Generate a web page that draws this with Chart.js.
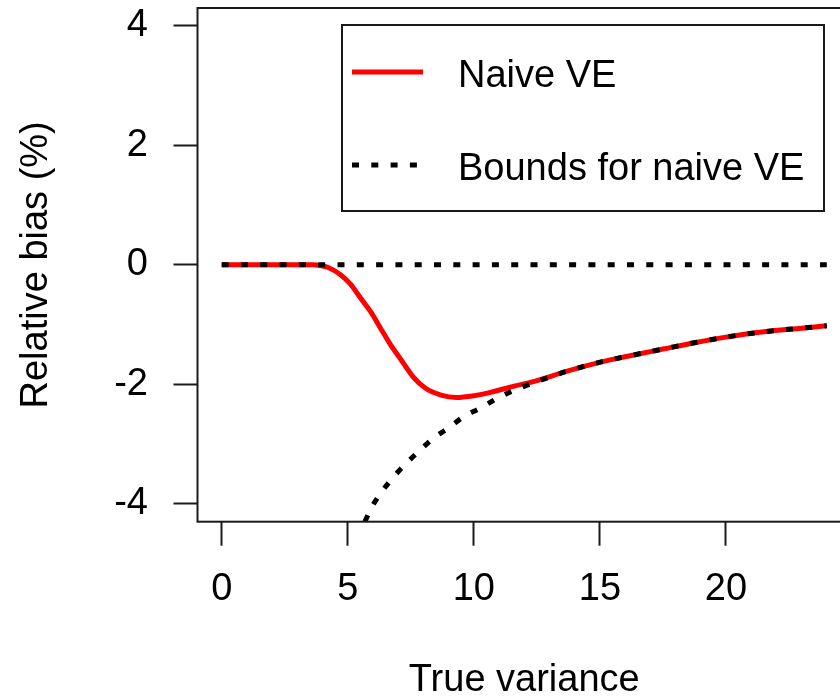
<!DOCTYPE html>
<html>
<head>
<meta charset="utf-8">
<script src="https://cdn.jsdelivr.net/npm/chart.js@4"></script>
<style>
  html, body { margin: 0; padding: 0; background: #fff; }
  #wrap { width: 840px; height: 700px; overflow: hidden; position: relative; }
  #bias-chart { position: absolute; left: 0; top: 0; }
</style>
</head>
<body>
<div id="wrap"><canvas id="bias-chart" width="870" height="700"></canvas></div>
<script>
// relative bias of the naive VE against the true variance
const naiveX = [0, 1, 2, 3, 3.6, 4.0, 4.2, 4.7, 5.1, 5.5, 5.9, 6.3, 6.7, 7.1, 7.6, 8.1, 8.7, 9.3, 10.0, 10.7, 11.6, 12.4, 13.7, 15.1, 16.1, 17.5, 18.8, 20, 21.5, 23, 24];
const naiveY = [0, 0, 0, 0, 0, -0.02, -0.04, -0.16, -0.32, -0.55, -0.78, -1.06, -1.34, -1.58, -1.88, -2.07, -2.18, -2.22, -2.19, -2.13, -2.03, -1.95, -1.78, -1.62, -1.53, -1.41, -1.30, -1.21, -1.12, -1.06, -1.02];

// lower and upper bounds for the naive VE
const lowerX = [5.4, 5.7, 6.0, 6.4, 6.9, 7.4, 7.9, 8.4, 9.0, 9.6, 10.3, 10.9, 11.6, 12.4, 13.7, 15.1, 16.1, 17.5, 18.8, 20, 21.5, 23, 24];
const lowerY = [-4.60, -4.28, -4.02, -3.77, -3.51, -3.29, -3.09, -2.90, -2.73, -2.54, -2.39, -2.24, -2.10, -1.97, -1.78, -1.62, -1.53, -1.41, -1.30, -1.21, -1.12, -1.06, -1.02];
const upperX = [0, 24];
const upperY = [0, 0];

const xTicks = [0, 5, 10, 15, 20];
const yTicks = [-4, -2, 0, 2, 4];

const FONT = '"Liberation Sans", Arial, sans-serif';
const INK = '#1a1a1a';

const toPoints = (xs, ys) => xs.map((x, i) => ({ x: x, y: ys[i] }));

// box round the plot region plus the legend, drawn like base R graphics
const framePlugin = {
  id: 'frame',
  afterDatasetsDraw(chart) {
    const ctx = chart.ctx;
    const a = chart.chartArea;
    ctx.save();
    ctx.strokeStyle = INK;
    ctx.lineWidth = 2;
    ctx.strokeRect(a.left, a.top, a.right - a.left, a.bottom - a.top);

    // legend
    ctx.strokeRect(342, 25, 482, 186);
    const sets = chart.data.datasets;
    ctx.beginPath();
    ctx.strokeStyle = sets[0].borderColor;
    ctx.lineWidth = sets[0].borderWidth;
    ctx.moveTo(352, 72);
    ctx.lineTo(423, 72);
    ctx.stroke();

    ctx.beginPath();
    ctx.strokeStyle = sets[1].borderColor;
    ctx.lineWidth = sets[1].borderWidth;
    ctx.setLineDash(sets[1].borderDash);
    ctx.moveTo(352, 165);
    ctx.lineTo(422, 165);
    ctx.stroke();
    ctx.setLineDash([]);

    ctx.fillStyle = '#000';
    ctx.font = '38px ' + FONT;
    ctx.textAlign = 'left';
    ctx.textBaseline = 'alphabetic';
    ctx.fillText(sets[0].label, 458, 87);
    ctx.fillText(sets[1].label, 458, 180);
    ctx.restore();
  }
};

window.onload = function () {
  const ctx = document.getElementById('bias-chart').getContext('2d');

  new Chart(ctx, {
    type: 'line',
    data: {
      datasets: [{
        label: 'Naive VE',
        data: toPoints(naiveX, naiveY),
        borderColor: '#ff0000',
        borderWidth: 5,
        cubicInterpolationMode: 'monotone',
        pointRadius: 0,
        fill: false,
        order: 1,
        clip: 0
      }, {
        label: 'Bounds for naive VE',
        data: toPoints(lowerX, lowerY),
        borderColor: '#000',
        borderWidth: 5,
        borderDash: [7, 12.3],
        cubicInterpolationMode: 'monotone',
        pointRadius: 0,
        fill: false,
        order: 0,
        clip: 0
      }, {
        label: 'upper',
        data: toPoints(upperX, upperY),
        borderColor: '#000',
        borderWidth: 5,
        borderDash: [7, 12.3],
        pointRadius: 0,
        fill: false,
        order: 0,
        clip: 0
      }]
    },
    options: {
      responsive: false,
      animation: false,
      devicePixelRatio: 1,
      layout: { padding: { top: 8, right: 19, left: 0, bottom: 0 } },
      plugins: {
        legend: { display: false },
        tooltip: { enabled: false }
      },
      scales: {
        x: {
          type: 'linear',
          min: -0.96,
          max: 24.96,
          afterBuildTicks: s => { s.ticks = xTicks.map(v => ({ value: v })); },
          afterFit: s => { s.height = 178.3; s.paddingLeft = 0; s.paddingRight = 0; },
          border: { display: false },
          grid: { drawOnChartArea: false, drawTicks: true, tickLength: 24, tickColor: INK, tickWidth: 2 },
          ticks: { color: '#000', padding: 25, maxRotation: 0, autoSkip: false, font: { family: FONT, size: 38, lineHeight: 1 } },
          title: { display: true, text: 'True variance', color: '#000', padding: { top: 0, bottom: 0 }, font: { family: FONT, size: 38, lineHeight: 1 } }
        },
        y: {
          min: -4.3,
          max: 4.3,
          afterBuildTicks: s => { s.ticks = yTicks.map(v => ({ value: v })); },
          afterFit: s => { s.width = 197.5; s.paddingTop = 0; s.paddingBottom = 0; },
          border: { display: false },
          grid: { drawOnChartArea: false, drawTicks: true, tickLength: 24, tickColor: INK, tickWidth: 2 },
          ticks: { color: '#000', padding: 25.5, autoSkip: false, font: { family: FONT, size: 38, lineHeight: 1 } },
          title: { display: true, text: 'Relative bias (%)', color: '#000', padding: { top: 18, bottom: 0 }, font: { family: FONT, size: 38, lineHeight: 1 } }
        }
      }
    },
    plugins: [framePlugin]
  });
};
</script>
</body>
</html>
